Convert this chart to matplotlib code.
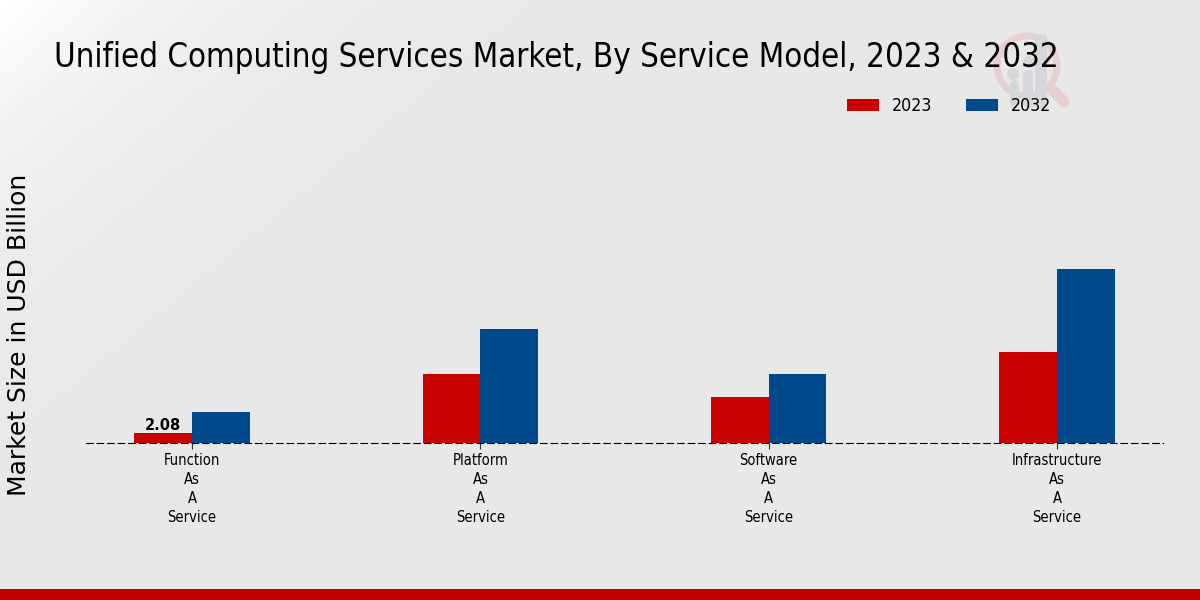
import numpy as np
import matplotlib
matplotlib.use("Agg")
import matplotlib.pyplot as plt
from matplotlib.patches import Circle, FancyBboxPatch, Rectangle

# Values
categories = ["Function\nAs\nA\nService", "Platform\nAs\nA\nService",
              "Software\nAs\nA\nService", "Infrastructure\nAs\nA\nService"]
values_2023 = [2.08, 14.3, 9.6, 19.0]
values_2032 = [6.5, 23.7, 14.3, 36.2]

RED = "#c80000"
BLUE = "#004a8c"
W, H = 1200, 600

fig = plt.figure(figsize=(12, 6), dpi=100)

# background: soft diagonal gradient, white in the top left corner
bg = fig.add_axes([0, 0, 1, 1], zorder=0)
bg.axis("off")
yy, xx = np.mgrid[0:H:4, 0:W:4]
dist = (xx + yy * 1.2) / 560.0
grad = 0.91 + 0.09 * np.clip(1 - dist, 0, 1) ** 2.2
bg.imshow(grad, extent=[0, W, H, 0], cmap="gray", vmin=0, vmax=1, aspect="auto")

# watermark logo behind the title
bg.add_patch(Circle((1027, 66), 30, fill=False, ec="#e6d0d2", lw=5))
bg.plot([1054, 1064], [91, 102], color="#e6d0d2", lw=8, solid_capstyle="round")
for x0, x1, top in [(1010, 1019, 80), (1023, 1033, 70), (1035, 1047, 34)]:
    bg.add_patch(FancyBboxPatch((x0, top), x1 - x0, 108 - top, boxstyle="round,pad=0,rounding_size=4.5",
                                fc="#d5d7da", ec="none"))
bg.add_patch(Circle((1013, 74), 6, fc="#d5d7da", ec="none"))
bg.add_patch(Circle((1029, 62), 6, fc="#d5d7da", ec="none"))

# bottom band
bg.add_patch(Rectangle((0, 589), W, 11, fc="#c00000", ec="none"))
bg.set_xlim(0, W)
bg.set_ylim(H, 0)

ax = fig.add_axes([86 / W, 1 - 443 / H, (1163 - 86) / W, (443 - 90) / H], zorder=1)
ax.patch.set_alpha(0)

x = np.arange(len(categories))
width = 0.2
bars_a = ax.bar(x - width / 2, values_2023, width, color=RED, label="2023", zorder=2)
bars_b = ax.bar(x + width / 2, values_2032, width, color=BLUE, label="2032", zorder=2)

ax.set_xlim(-0.368, 3.368)
ax.set_ylim(0, 353 / 4.8)
ax.set_yticks([])
ax.set_xticks(x)
ax.set_xticklabels(categories, fontstretch="condensed", fontsize=10.5, linespacing=1.34)
ax.tick_params(axis="x", length=4, width=0.8, pad=3, color="#333333")
for side in ["top", "left", "right"]:
    ax.spines[side].set_visible(False)
ax.spines["bottom"].set_linestyle((0, (6, 3.5)))
ax.spines["bottom"].set_linewidth(0.8)
ax.spines["bottom"].set_zorder(5)

ax.text(x[0] - width / 2, values_2023[0] + 0.1, "2.08", ha="center", va="bottom",
        fontsize=10.5, fontweight="bold", color="black")

fig.text(19 / W, 1 - 335 / H, "Market Size in USD Billion", rotation=90, ha="center", va="center",
         fontsize=18, color="black", zorder=3)
fig.text(54 / W, 1 - 58 / H, "Unified Computing Services Market, By Service Model, 2023 & 2032",
         ha="left", va="center", fontstretch="condensed", fontsize=23.65, color="black", zorder=3)

leg = fig.legend(handles=[bars_a, bars_b], labels=["2023", "2032"], ncol=2, frameon=False,
                 loc="center right", bbox_to_anchor=(1067 / W, 1 - 106 / H),
                 prop={"stretch": "condensed", "size": 12.8}, handlelength=1.8, handleheight=0.67,
                 columnspacing=1.9, handletextpad=0.73)

fig.savefig("out.png", dpi=100)
